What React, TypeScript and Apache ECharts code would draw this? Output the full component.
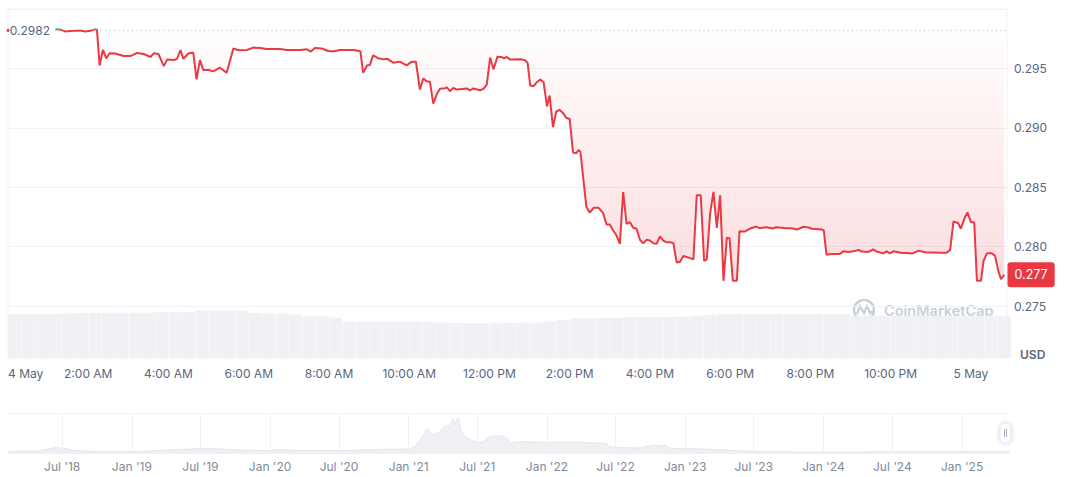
import React, { useEffect, useRef } from "react";
import * as echarts from "echarts";

// ---- main (24h) price data: [minutes since 4 May 00:00, price USD]
const BASELINE = 0.2982;
const X_MAX_MINUTE = 1494;
const pricePoints: [number, number][] = [
  [71, 0.2983], [78, 0.29828], [86, 0.2981], [93, 0.29815], [108, 0.29819], [116, 0.29811],
  [123, 0.29816], [131, 0.2983], [133, 0.29826], [137, 0.29525], [142, 0.29655], [147, 0.29585],
  [152, 0.29627], [160, 0.29625], [173, 0.29604], [183, 0.29604], [193, 0.2963], [203, 0.29621],
  [213, 0.29596], [218, 0.29627], [225, 0.29621], [233, 0.29519], [238, 0.29574], [248, 0.2957],
  [253, 0.29582], [258, 0.29655], [262, 0.29582], [270, 0.29625], [277, 0.29633], [282, 0.29407],
  [287, 0.2957], [292, 0.29486], [300, 0.29486], [307, 0.29475], [317, 0.29506], [327, 0.29464],
  [337, 0.29667], [345, 0.29653], [357, 0.29655], [367, 0.29675], [377, 0.29672], [387, 0.29664],
  [407, 0.29664], [417, 0.29655], [437, 0.29655], [447, 0.29661], [453, 0.29642], [459, 0.29672],
  [469, 0.29667], [479, 0.29647], [487, 0.29644], [497, 0.29655], [517, 0.29655], [527, 0.29645],
  [531, 0.29464], [537, 0.29525], [541, 0.29528], [546, 0.2961], [554, 0.29585], [561, 0.29576],
  [567, 0.29582], [576, 0.29548], [586, 0.29557], [596, 0.29525], [604, 0.29557], [610, 0.29557],
  [616, 0.29322], [621, 0.29415], [626, 0.29392], [631, 0.29387], [636, 0.29203], [641, 0.2928],
  [646, 0.29328], [654, 0.29333], [656, 0.29342], [661, 0.29308], [666, 0.29336], [671, 0.29322],
  [686, 0.29331], [691, 0.29316], [696, 0.29331], [706, 0.29316], [711, 0.29328], [716, 0.29364],
  [721, 0.29591], [726, 0.29492], [732, 0.29599], [738, 0.29596], [742, 0.29585], [746, 0.29596],
  [751, 0.29574], [768, 0.29576], [773, 0.29568], [777, 0.29548], [781, 0.29356], [786, 0.2935],
  [791, 0.29384], [796, 0.29407], [801, 0.29384], [806, 0.2918], [810, 0.29271], [815, 0.29006],
  [820, 0.29138], [825, 0.2915], [830, 0.29125], [835, 0.29082], [840, 0.29074], [845, 0.28791],
  [850, 0.28786], [853, 0.28814], [856, 0.28799], [865, 0.28333], [870, 0.28286], [876, 0.28328],
  [883, 0.28328], [890, 0.28282], [895, 0.28186], [900, 0.28186], [905, 0.28136], [910, 0.28093],
  [915, 0.28023], [920, 0.2846], [925, 0.28192], [930, 0.28206], [935, 0.28158], [940, 0.2815],
  [945, 0.28057], [950, 0.28028], [955, 0.28057], [960, 0.28051], [965, 0.28028], [970, 0.28023],
  [975, 0.28085], [980, 0.28051], [985, 0.28036], [990, 0.28036], [995, 0.28031], [1000, 0.27867],
  [1005, 0.27873], [1010, 0.27921], [1017, 0.27909], [1025, 0.27892], [1030, 0.28432], [1036, 0.28432],
  [1041, 0.27881], [1045, 0.2789], [1050, 0.28277], [1055, 0.2846], [1060, 0.28158], [1065, 0.28432],
  [1070, 0.27712], [1075, 0.28074], [1079, 0.2807], [1084, 0.27712], [1090, 0.27712], [1094, 0.2813],
  [1102, 0.28127], [1109, 0.2815], [1119, 0.28169], [1124, 0.28155], [1134, 0.28163], [1144, 0.28152],
  [1149, 0.28163], [1164, 0.28155], [1172, 0.28155], [1180, 0.28144], [1190, 0.28167], [1197, 0.28161],
  [1202, 0.2815], [1217, 0.28144], [1220, 0.28136], [1224, 0.27932], [1232, 0.27938], [1244, 0.27938],
  [1249, 0.2796], [1257, 0.27955], [1264, 0.2796], [1272, 0.27972], [1277, 0.27958], [1287, 0.27955],
  [1294, 0.27977], [1299, 0.27958], [1309, 0.27943], [1314, 0.2796], [1319, 0.27943], [1324, 0.2796],
  [1337, 0.27947], [1344, 0.27947], [1352, 0.27941], [1362, 0.27966], [1371, 0.27952], [1396, 0.27949],
  [1404, 0.27949], [1409, 0.27974], [1414, 0.28212], [1421, 0.28197], [1425, 0.2815], [1431, 0.28248],
  [1435, 0.28286], [1440, 0.28206], [1445, 0.28206], [1449, 0.27712], [1455, 0.27712], [1459, 0.27881],
  [1464, 0.27943], [1471, 0.27943], [1476, 0.27924], [1481, 0.27797], [1485, 0.27726], [1490, 0.27763],
];

// ---- 20-minute volume buckets (million USD)
const VOLUME_BUCKET_MIN = 20;
const volumeValues = [
  10.1, 10.1, 10.1, 10.1, 10.2, 10.3, 10.3, 10.4, 10.4, 10.4, 10.4, 10.5, 10.5, 10.6, 10.9,
  10.9, 10.9, 10.8, 10.3, 10.2, 10.2, 10.0, 9.6, 9.6, 9.2, 8.3, 8.3, 8.3, 8.3, 8.3,
  8.3, 8.3, 8.1, 8.0, 8.0, 8.0, 8.1, 8.1, 8.1, 8.1, 8.4, 8.7, 9.1, 9.1, 9.2,
  9.2, 9.4, 9.4, 9.4, 9.4, 9.5, 9.7, 9.9, 10.1, 10.1, 10.1, 10.1, 10.1, 10.1, 10.1,
  10.1, 10.1, 10.1, 9.7, 9.7, 9.7, 9.7, 9.7, 9.7, 9.7, 9.7, 9.7, 9.7, 9.7, 9.7,
];

const xTickLabels = [
  "4 May", "2:00 AM", "4:00 AM", "6:00 AM", "8:00 AM", "10:00 AM", "12:00 PM",
  "2:00 PM", "4:00 PM", "6:00 PM", "8:00 PM", "10:00 PM", "5 May",
];
const X_TICK_STEP = 120;

// ---- navigator (all-time) data
const NAV_START = "2018-02-08";
const NAV_END = "2025-05-05";
const navPoints: [string, number][] = [
  ["2018-02-08", 0.28], ["2018-05-03", 0.375], ["2018-06-12", 1.0], ["2018-07-01", 0.94],
  ["2018-08-03", 0.47], ["2018-10-08", 0.24], ["2019-01-22", 0.28], ["2019-06-03", 0.75],
  ["2019-07-26", 0.84], ["2019-10-13", 0.56], ["2019-12-31", 0.43], ["2020-01-26", 0.66],
  ["2020-03-19", 0.47], ["2020-07-29", 0.5], ["2020-10-16", 0.66], ["2021-01-01", 0.75],
  ["2021-01-16", 1.12], ["2021-02-04", 2.8], ["2021-02-19", 4.6], ["2021-03-05", 3.4],
  ["2021-03-23", 3.9], ["2021-04-10", 5.25], ["2021-04-19", 4.9], ["2021-04-27", 6.5],
  ["2021-05-02", 5.6], ["2021-05-12", 6.7], ["2021-05-20", 4.0], ["2021-06-05", 2.8],
  ["2021-06-28", 1.93], ["2021-07-15", 2.1], ["2021-08-02", 3.06], ["2021-08-23", 3.24],
  ["2021-09-15", 2.94], ["2021-09-28", 1.82], ["2021-10-20", 2.1], ["2021-12-03", 2.06],
  ["2022-01-15", 2.0], ["2022-02-21", 2.06], ["2022-04-23", 1.93], ["2022-06-06", 1.82],
  ["2022-06-15", 1.18], ["2022-07-11", 1.0], ["2022-09-02", 0.94], ["2022-10-12", 1.5],
  ["2022-11-10", 1.4], ["2022-11-25", 0.84], ["2023-02-23", 0.75], ["2023-06-30", 0.28],
  ["2023-10-29", 0.19], ["2024-03-09", 0.19], ["2024-07-19", 0.22], ["2024-12-24", 0.28],
  ["2025-05-05", 0.277],
];
const NAV_MAX = 7.5;
const navTickDates = [
  "2018-07-01", "2019-01-01", "2019-07-01", "2020-01-01", "2020-07-01", "2021-01-01", "2021-07-01",
  "2022-01-01", "2022-07-01", "2023-01-01", "2023-07-01", "2024-01-01", "2024-07-01", "2025-01-01",
];
const navTickLabels = [
  "Jul '18", "Jan '19", "Jul '19", "Jan '20", "Jul '20", "Jan '21", "Jul '21",
  "Jan '22", "Jul '22", "Jan '23", "Jul '23", "Jan '24", "Jul '24", "Jan '25",
];

const RED = "#ea3943";
const GREEN = "#16c784";
const GRID_LINE = "#eff2f5";
const LABEL = "#58667e";
const WATERMARK = "#c8cfd9";

const toTime = (d: string) => new Date(d + "T00:00:00Z").getTime();

export default function App() {
  const ref = useRef<HTMLDivElement>(null);

  useEffect(() => {
    if (!ref.current) return;
    const chart = echarts.init(ref.current, null, { renderer: "svg" });
    const last = pricePoints[pricePoints.length - 1];
    const lastLabel = (Math.floor(last[1] * 1000) / 1000).toFixed(3);

    const option: any = {
      animation: false,
      textStyle: { fontFamily: "Inter, 'Noto Sans', sans-serif" },
      grid: [
        { left: 8, right: 65, top: 9, bottom: 171 },
        { left: 8, right: 65, top: 9, bottom: 119, show: true, borderColor: GRID_LINE, borderWidth: 1 },
        { left: 8, right: 63, top: 413, bottom: 24 },
      ],
      xAxis: [
        { gridIndex: 0, type: "value", min: 0, max: X_MAX_MINUTE, show: false },
        {
          gridIndex: 1,
          type: "value",
          min: 0,
          max: X_MAX_MINUTE,
          interval: X_TICK_STEP,
          axisLine: { show: false },
          axisTick: { show: false },
          splitLine: { show: false },
          axisLabel: {
            color: LABEL,
            fontSize: 12,
            margin: 9,
            showMaxLabel: false,
            alignMinLabel: "left",
            formatter: (v: number) => (v % X_TICK_STEP === 0 ? xTickLabels[v / X_TICK_STEP] ?? "" : ""),
          },
        },
        {
          gridIndex: 2,
          type: "value",
          min: toTime(NAV_START),
          max: toTime(NAV_END),
          show: false,
        },
      ],
      yAxis: [
        {
          gridIndex: 0,
          type: "value",
          position: "right",
          min: 0.275,
          max: 0.3,
          interval: 0.005,
          axisLine: { show: false },
          axisTick: { show: false },
          splitLine: { lineStyle: { color: GRID_LINE, width: 1 } },
          axisLabel: {
            color: LABEL,
            fontSize: 12,
            margin: 7,
            showMaxLabel: false,
            formatter: (v: number) => v.toFixed(3),
          },
        },
        { gridIndex: 1, type: "value", min: 0, max: 80, show: false },
        {
          gridIndex: 2,
          type: "value",
          min: 0,
          max: NAV_MAX,
          interval: NAV_MAX,
          axisLine: { show: false },
          axisTick: { show: false },
          axisLabel: { show: false },
          splitLine: { lineStyle: { color: GRID_LINE } },
        },
      ],
      series: [
        {
          type: "bar",
          xAxisIndex: 1,
          yAxisIndex: 1,
          barWidth: 13,
          silent: true,
          itemStyle: { color: "#eff1f4" },
          data: volumeValues.map((v, i) => [i * VOLUME_BUCKET_MIN + VOLUME_BUCKET_MIN / 2, v]),
          z: 1,
        },
        {
          id: "price",
          type: "line",
          xAxisIndex: 0,
          yAxisIndex: 0,
          showSymbol: false,
          symbol: "none",
          lineStyle: { width: 2, color: RED },
          z: 5,
          areaStyle: {
            origin: BASELINE,
            color: {
              type: "linear",
              x: 0,
              y: 0,
              x2: 0,
              y2: 1,
              colorStops: [
                { offset: 0, color: "rgba(234,57,67,0.01)" },
                { offset: 1, color: "rgba(234,57,67,0.24)" },
              ],
            },
          },
          data: pricePoints,
        },
        {
          // baseline (open price) dotted line with its label, and the last-price tag
          type: "line",
          xAxisIndex: 0,
          yAxisIndex: 0,
          showSymbol: false,
          symbol: "none",
          silent: true,
          z: 4,
          lineStyle: { color: "#a6b0c3", type: [1, 3.5], width: 1 },
          data: [
            [pricePoints[0][0], BASELINE],
            [X_MAX_MINUTE, BASELINE],
          ],
          markPoint: {
            silent: true,
            z: 10,
            data: [
              {
                coord: [0, BASELINE],
                symbol: "circle",
                symbolSize: 3,
                itemStyle: { color: RED },
                label: { show: false },
              },
              {
                coord: [pricePoints[0][0], BASELINE],
                symbol: "circle",
                symbolSize: 1,
                itemStyle: { color: "rgba(0,0,0,0)" },
                label: {
                  show: true,
                  position: "left",
                  distance: 5,
                  formatter: BASELINE.toFixed(4),
                  color: LABEL,
                  fontSize: 12,
                },
              },
              {
                coord: [X_MAX_MINUTE, last[1]],
                symbol: "rect",
                symbolSize: 1,
                itemStyle: { color: "rgba(0,0,0,0)" },
                label: {
                  show: true,
                  position: "right",
                  distance: 0,
                  formatter: lastLabel,
                  color: "#fff",
                  fontSize: 12.5,
                  lineHeight: 13,
                  backgroundColor: RED,
                  borderRadius: 3,
                  padding: [6, 7],
                },
              },
            ],
          },
        },
        {
          type: "line",
          xAxisIndex: 2,
          yAxisIndex: 2,
          showSymbol: false,
          symbol: "none",
          silent: true,
          lineStyle: { color: "#e2e6ec", width: 1 },
          areaStyle: { color: "#eef0f3", opacity: 1 },
          data: navPoints.map(([d, v]) => [toTime(d), v]),
          markLine: {
            silent: true,
            symbol: ["none", "none"],
            lineStyle: { color: GRID_LINE, type: "solid", width: 1 },
            data: navTickDates.map((d, i) => ({
              xAxis: toTime(d),
              label: {
                show: true,
                position: "start",
                distance: 7,
                formatter: navTickLabels[i],
                color: "#808a9d",
                fontSize: 12,
              },
            })),
          },
        },
      ],
      graphic: [
        {
          type: "text",
          left: 1020,
          top: 348,
          style: { text: "USD", fill: LABEL, font: "600 12px Inter, sans-serif" },
        },
        {
          type: "group",
          silent: true,
          children: [
            {
              type: "circle",
              shape: { cx: 864, cy: 310, r: 10 },
              style: { fill: "none", stroke: WATERMARK, lineWidth: 2.4 },
            },
            {
              type: "polyline",
              shape: { points: [[857, 314], [860, 306], [864, 313], [867, 306], [870, 313], [873, 311]] },
              style: { fill: "none", stroke: WATERMARK, lineWidth: 2.2 },
            },
            {
              type: "text",
              x: 884,
              y: 303,
              style: {
                text: "CoinMarketCap",
                fill: WATERMARK,
                font: "600 14.5px Inter, sans-serif",
              },
            },
          ],
        },
        {
          type: "group",
          silent: true,
          children: [
            {
              type: "rect",
              shape: { x: 1000, y: 423, width: 11, height: 20, r: 5 },
              style: { fill: "#fff", stroke: "#e3e7ee", lineWidth: 1, shadowBlur: 4, shadowColor: "rgba(0,0,0,0.18)" },
            },
            { type: "line", shape: { x1: 1004.5, y1: 429, x2: 1004.5, y2: 437 }, style: { stroke: "#a6b0c3", lineWidth: 1 } },
            { type: "line", shape: { x1: 1006.5, y1: 429, x2: 1006.5, y2: 437 }, style: { stroke: "#a6b0c3", lineWidth: 1 } },
          ],
        },
      ],
    };

    chart.setOption(option);

    // colour the price line green above the opening price, red below it
    try {
      const H = chart.getHeight();
      const yb = (chart.convertToPixel({ xAxisIndex: 0, yAxisIndex: 0 } as any, [0, BASELINE]) as number[])[1];
      const off = Math.min(1, Math.max(0, yb / H));
      chart.setOption({
        series: [
          {
            id: "price",
            lineStyle: {
              color: {
                type: "linear",
                x: 0,
                y: 0,
                x2: 0,
                y2: H,
                global: true,
                colorStops: [
                  { offset: 0, color: GREEN },
                  { offset: off, color: GREEN },
                  { offset: off, color: RED },
                  { offset: 1, color: RED },
                ],
              },
            },
          },
        ],
      });
    } catch (e) {
      // keep the plain red line
    }

    return () => chart.dispose();
  }, []);

  return (
    <div
      ref={ref}
      style={{ position: "fixed", left: 0, top: 0, width: 1072, height: 477, background: "#fff" }}
    />
  );
}
